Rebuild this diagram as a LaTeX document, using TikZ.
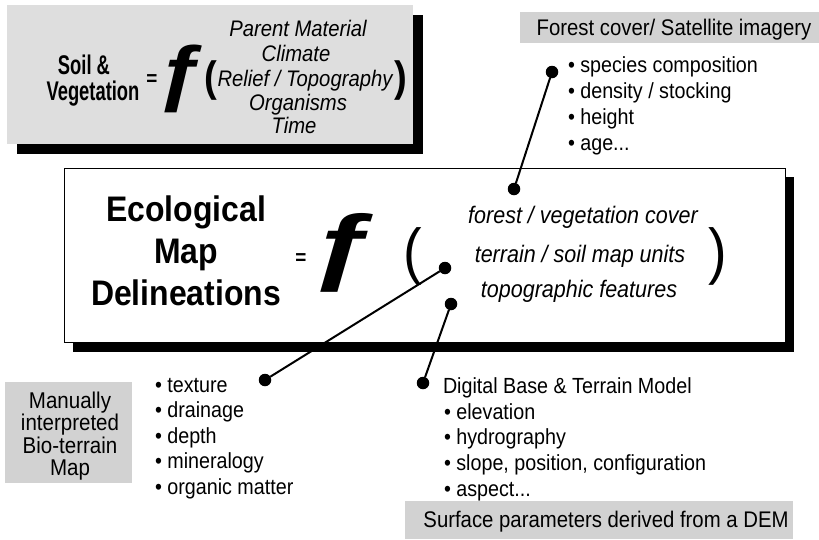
\documentclass[tikz,border=0pt]{standalone}
\usepackage{fontspec}
\setmainfont{Liberation Sans}[FakeStretch=0.9]
\newfontfamily\glyphsans{Liberation Sans}
\newfontfamily\narrowsans{Liberation Sans}[FakeStretch=0.68]
\newcommand\setsz[1]{\fontsize{#1}{#1}\selectfont}
\definecolor{panelgray}{RGB}{222,222,222}
\definecolor{taggray}{RGB}{210,210,210}

\begin{document}
\begin{tikzpicture}[x=1pt,y=-1pt,
  lbl/.style={inner sep=0pt, outer sep=0pt, anchor=base},
  lblw/.style={inner sep=0pt, outer sep=0pt, anchor=base west},
  listtext/.style={lblw, font=\setsz{21.9}},
  tagtext/.style={lbl, font=\setsz{22.6}},
  termtext/.style={lbl, font=\setsz{23.9}\itshape},
  factortext/.style={lbl, font=\setsz{22.5}\itshape},
  dot/.style={circle, fill=black, minimum size=12.5pt, inner sep=0pt, outer sep=0pt},
  conn/.style={line width=2pt, black}]

\useasboundingbox (0,0) rectangle (819,539);

% ---- soil & vegetation equation panel ----
\fill[black] (17,15) rectangle (423,154);
\fill[panelgray] (7,5) rectangle (413,144);
\node[lbl, font=\narrowsans\setsz{27}\bfseries] (soil1) at (84,74) {Soil \&};
\node[lbl, font=\narrowsans\setsz{27}\bfseries] (soil2) at (93,100) {Vegetation};
\node[lbl, font=\setsz{21}\bfseries] (eqa) at (152,85) {=};
\node[lbl, font=\glyphsans\setsz{74}\bfseries] (fa) at (182,97)
  {\makebox[34pt]{\scalebox{1.2}[1]{ƒ}}};
\node[lbl, font=\setsz{42.5}\bfseries] (lpa) at (211,91) {(};
\node[lbl, font=\setsz{42.5}\bfseries] (rpa) at (401,91) {)};
\node[factortext] (fac1) at (298,36) {Parent Material};
\node[factortext] (fac2) at (296,61) {Climate};
\node[factortext] (fac3) at (305,86) {Relief / Topography};
\node[factortext] (fac4) at (298,110) {Organisms};
\node[factortext] (fac5) at (294,133) {Time};

% ---- ecological map delineation panel ----
\fill[black] (73,177) rectangle (794,352);
\filldraw[fill=white, draw=black, line width=0.8pt] (64,168) rectangle (785,342);
\node[lbl, font=\setsz{35.5}\bfseries] (eco1) at (186,221) {Ecological};
\node[lbl, font=\setsz{35.5}\bfseries] (eco2) at (186,263) {Map};
\node[lbl, font=\setsz{35.5}\bfseries] (eco3) at (186,305) {Delineations};
\node[lbl, font=\setsz{21}\bfseries] (eqb) at (301,264) {=};
\node[lbl, font=\glyphsans\setsz{86}\bfseries] (fb) at (345,274)
  {\makebox[54pt]{\scalebox{1.45}[1]{ƒ}}};
\node[lbl, font=\setsz{62}] (lpb) at (413,272) {(};
\node[lbl, font=\setsz{62}] (rpb) at (718,272) {)};
\node[termtext] (term1) at (583,223) {forest / vegetation cover};
\node[termtext] (term2) at (580,262) {terrain / soil map units};
\node[termtext] (term3) at (579,297) {topographic features};

% ---- source tags ----
\fill[taggray] (520,12) rectangle (819,43);
\node[tagtext] (forest) at (674,35) {Forest cover/ Satellite imagery};
\fill[taggray] (405,501) rectangle (793,539);
\node[tagtext] (surface) at (606,527) {Surface parameters derived from a DEM};
\fill[taggray] (5,382) rectangle (132,483);
\node[inner sep=0pt, align=center, font=\setsz{22.8},
      execute at begin node=\setlength{\baselineskip}{22.5pt}] (manual) at (70,436)
      {Manually\\interpreted\\Bio-terrain\\Map};

% ---- attribute lists ----
\node[listtext] (sp1) at (568,72)  {• species composition};
\node[listtext] (sp2) at (568,98)  {• density / stocking};
\node[listtext] (sp3) at (568,124) {• height};
\node[listtext] (sp4) at (568,150) {• age...};

\node[listtext] (so1) at (155,392) {• texture};
\node[listtext] (so2) at (155,417) {• drainage};
\node[listtext] (so3) at (155,443) {• depth};
\node[listtext] (so4) at (155,468) {• mineralogy};
\node[listtext] (so5) at (155,494) {• organic matter};

\node[listtext] (dem0) at (443,393) {Digital Base \& Terrain Model};
\node[listtext] (dem1) at (444,419) {• elevation};
\node[listtext] (dem2) at (444,444) {• hydrography};
\node[listtext] (dem3) at (444,470) {• slope, position, configuration};
\node[listtext] (dem4) at (444,496) {• aspect...};

% ---- connectors ----
\node[dot] (d1) at (552,72) {};
\node[dot] (d2) at (514,189) {};
\node[dot] (d3) at (445,268) {};
\node[dot] (d4) at (265,380) {};
\node[dot] (d5) at (451,304) {};
\node[dot] (d6) at (423,383) {};
\draw[conn] (d1) -- (d2);
\draw[conn] (d3) -- (d4);
\draw[conn] (d5) -- (d6);
\end{tikzpicture}
\end{document}
